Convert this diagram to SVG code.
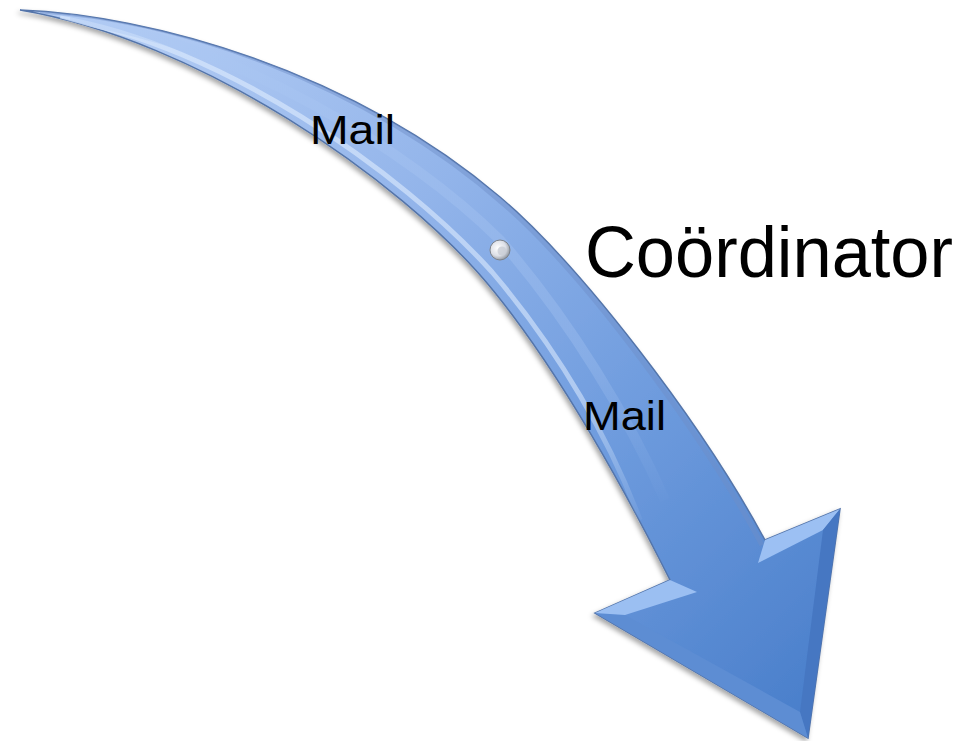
<svg xmlns="http://www.w3.org/2000/svg" width="968" height="741" viewBox="0 0 968 741">
<style>
.lbl{font-family:"Liberation Sans","Open Sans",Arial,sans-serif;fill:#000;}
</style>
<defs>
<linearGradient id="g" gradientUnits="userSpaceOnUse" x1="120" y1="20" x2="800" y2="720">
<stop offset="0" stop-color="#b3ccf4"/>
<stop offset="0.35" stop-color="#92b4ea"/>
<stop offset="0.65" stop-color="#6f9cde"/>
<stop offset="1" stop-color="#4a7fcb"/>
</linearGradient>
<linearGradient id="fade" gradientUnits="userSpaceOnUse" x1="0" y1="0" x2="0" y2="560">
<stop offset="0" stop-color="#d6e6fc" stop-opacity="1"/>
<stop offset="0.7" stop-color="#d6e6fc" stop-opacity="0.8"/>
<stop offset="0.95" stop-color="#d6e6fc" stop-opacity="0"/>
</linearGradient>
<linearGradient id="fade2" gradientUnits="userSpaceOnUse" x1="0" y1="0" x2="0" y2="510">
<stop offset="0" stop-color="#a9c6f2" stop-opacity="1"/>
<stop offset="0.7" stop-color="#a9c6f2" stop-opacity="0.8"/>
<stop offset="1" stop-color="#a9c6f2" stop-opacity="0"/>
</linearGradient>
<radialGradient id="knob" cx="0.4" cy="0.4" r="0.65">
<stop offset="0" stop-color="#ffffff"/>
<stop offset="0.6" stop-color="#dcdfe6"/>
<stop offset="1" stop-color="#8a9099"/>
</radialGradient>
<filter id="sh" x="-5%" y="-5%" width="110%" height="110%">
<feDropShadow dx="-2" dy="3" stdDeviation="2.5" flood-color="#000" flood-opacity="0.35"/>
</filter>
<clipPath id="ac">
<path d="M20,10 C150,15 350,70 500,197 C580,265 700,420 765,540 L840,509 L808,738 L595,613 L670,580 C630,500 560,370 487,283 C400,180 200,40 20,10 Z"/>
</clipPath>
</defs>
<g id="arrow">
<path d="M20,10 C150,15 350,70 500,197 C580,265 700,420 765,540 L840,509 L808,738 L595,613 L670,580 C630,500 560,370 487,283 C400,180 200,40 20,10 Z" fill="url(#g)" stroke="#5475aa" stroke-width="1.5" filter="url(#sh)"/>
<g clip-path="url(#ac)">
<path d="M60,18 C220,45 400,170 492,272 C560,352 610,440 640,520" fill="none" stroke="url(#fade)" stroke-width="5" opacity="0.75"/>
<path d="M70,19 C230,40 410,150 500,240 C570,320 630,420 665,500" fill="none" stroke="url(#fade2)" stroke-width="10" opacity="0.4"/>
<path d="M40,11 C170,18 360,78 505,205 C585,275 700,430 762,545" fill="none" stroke="#6f8fc8" stroke-width="5" opacity="0.45"/>
</g>
<polygon points="765,540 840,509 823,530 758,563" fill="#9cc0f3"/>
<polygon points="840,509 808,738 800,712 823,530" fill="#4677c2"/>
<polygon points="808,738 595,613 625,615 800,712" fill="#5d8dd3"/>
<polygon points="595,613 670,580 697,592 625,615" fill="#9bbff2"/>
<circle cx="500" cy="250" r="10" fill="url(#knob)" stroke="#7d838c" stroke-width="1"/>
<circle cx="502" cy="251" r="4.5" fill="#c9cdd4" opacity="0.8"/>
</g>
<g id="label-mail-1"><text class="lbl" x="310" y="144" font-size="40" textLength="85" lengthAdjust="spacingAndGlyphs">Mail</text></g>
<g id="label-coordinator"><text class="lbl" x="585" y="277" font-size="72" textLength="368" lengthAdjust="spacingAndGlyphs">Coördinator</text></g>
<g id="label-mail-2"><text class="lbl" x="583" y="430" font-size="41" textLength="83" lengthAdjust="spacingAndGlyphs">Mail</text></g>
</svg>
